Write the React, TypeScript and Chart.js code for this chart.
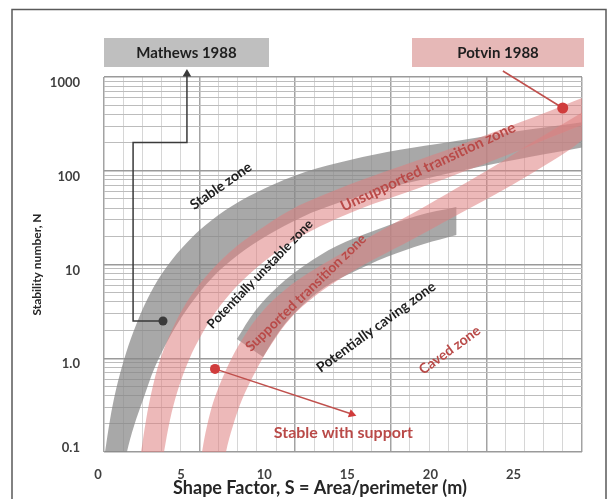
import React, { useEffect, useRef } from 'react';
import { Chart, registerables } from 'chart.js';

Chart.register(...registerables);
Chart.defaults.font.family = 'Lato, "Open Sans", sans-serif';

// ---- axes ----
const xTickValues = [0, 5, 10, 15, 20, 25];
const yTickValues = [0.1, 1, 10, 100, 1000];
const yTickLabels = ['0.1', '1.0', '10', '100', '1000'];
const xTitle = 'Shape Factor, S = Area/perimeter (m)';
const yTitle = 'Stability number, N';

// ---- Mathews (1988) transition bands, [S, N] ----
const mathewsStableUpper: [number, number][] = [
  [-0.12, 0.064], [0.06, 0.1], [0.36, 0.22], [0.72, 0.46], [1.2, 0.96], [1.81, 2.0], [2.59, 4.2],
  [3.55, 8.3], [4.69, 15], [6.08, 26], [7.7, 42], [9.69, 65], [12.1, 97], [14.8, 130],
  [17.8, 167], [20.8, 203], [23.8, 247], [28.9, 331],
];
const mathewsStableLower: [number, number][] = [
  [1.2, 0.064], [1.38, 0.1], [1.81, 0.19], [2.35, 0.36], [3.07, 0.81], [4.09, 1.86], [5.17, 3.7],
  [6.5, 7.2], [8.06, 12.6], [9.87, 20.6], [11.9, 32], [14.2, 46], [16.9, 64], [19.6, 84],
  [22.6, 110], [25.6, 140], [28.9, 179],
];
const mathewsCavingUpper: [number, number][] = [
  [7.99, 1.6], [9.09, 3.2], [10.5, 5.9], [12.1, 9.9], [14.0, 15.8], [16.2, 22.8], [18.8, 33], [21.2, 41],
];
const mathewsCavingLower: [number, number][] = [
  [9.57, 1.03], [10.65, 2.05], [11.9, 3.6], [13.3, 5.75], [15.0, 8.3], [17.0, 12], [19.25, 16.5], [21.2, 20.6],
];

// ---- Potvin (1988) transition bands, [S, N] ----
const potvinStableUpper: [number, number][] = [
  [2.05, 0.064], [2.23, 0.1], [2.53, 0.22], [2.89, 0.46], [3.37, 0.96], [4.09, 2.0], [4.99, 4.0],
  [6.14, 7.5], [7.58, 13.6], [9.27, 23], [11.2, 38], [13.3, 56], [15.7, 82], [18.4, 121],
  [21.1, 179], [23.8, 272], [26.5, 413], [28.9, 612],
];
const potvinStableLower: [number, number][] = [
  [3.43, 0.064], [3.61, 0.1], [3.97, 0.22], [4.45, 0.46], [5.11, 0.96], [5.96, 1.9], [6.98, 3.6],
  [8.24, 6.5], [9.75, 11.2], [11.5, 18.3], [13.5, 28], [15.7, 41], [18.1, 58], [20.8, 86],
  [23.5, 130], [26.2, 203], [28.9, 315],
];
const potvinSupportUpper: [number, number][] = [
  [5.78, 0.064], [5.9, 0.1], [6.2, 0.19], [6.62, 0.36], [7.28, 0.71], [8.12, 1.39], [9.21, 2.7],
  [10.5, 4.7], [12.2, 7.9], [14.2, 12.9], [16.4, 21.7], [18.8, 37], [21.2, 65], [23.7, 118],
  [25.8, 203], [28.9, 434],
];
const potvinSupportLower: [number, number][] = [
  [7.22, 0.064], [7.34, 0.1], [7.76, 0.19], [8.3, 0.36], [9.09, 0.71], [10.05, 1.39], [11.25, 2.7],
  [12.7, 4.6], [14.4, 7.4], [16.4, 11.7], [18.6, 18.7], [21.0, 32], [23.4, 54], [25.8, 95],
  [27.9, 162], [28.9, 223],
];

// ---- pointer arrows, [S, N] ----
const mathewsArrow: [number, number][] = [[3.55, 2.5], [1.75, 2.5], [1.75, 200], [4.99, 200], [4.99, 1076]];
const potvinArrow: [number, number][] = [[27.6, 467], [24.0, 1159]];
const supportArrow: [number, number][] = [[6.68, 0.77], [14.9, 0.254]];

// ---- zone labels ----
const zoneTexts = ['Stable zone', 'Potentially unstable zone', 'Unsupported transition zone',
  'Supported transition zone', 'Potentially caving zone', 'Caved zone', 'Stable with support'];
const zoneAnchors: [number, number][] = [[7.04, 68.8], [9.39, 7.9], [19.5, 110], [12.15, 5.0], [16.37, 2.15], [20.8, 1.22], [14.4, 0.16]];
const zoneAngles = [-35, -46, -25, -44, -36, -36, 0];

const DARK = '#1e1e1e';
const RED = '#b94a48';
const zoneColors = [DARK, DARK, RED, RED, DARK, RED, RED];
const zoneSizes = [14, 13, 15, 14, 14, 14, 16];

const yGridValues: number[] = [];
for (let e = -1; e <= 2; e++) for (let m = 1; m <= 9; m++) yGridValues.push(Number((m * Math.pow(10, e)).toPrecision(3)));
yGridValues.push(1000);

const toPts = (arr: [number, number][]) => arr.map(([x, y]) => ({ x, y }));
// closed outline: along the upper edge, then back along the lower edge (end corners kept sharp)
const band = (u: [number, number][], l: [number, number][]) => {
  const lr = l.slice().reverse();
  return toPts([...u, u[u.length - 1], lr[0], ...lr]);
};

const GRAY = 'rgba(135,135,135,0.72)';
const PINK = 'rgba(222,128,128,0.55)';

const decor = {
  id: 'decor',
  beforeDraw(chart: any) {
    const { ctx } = chart;
    ctx.save();
    ctx.strokeStyle = '#5a5a5a';
    ctx.lineWidth = 1.5;
    ctx.beginPath();
    ctx.moveTo(12, 499);
    ctx.lineTo(12, 9.5);
    ctx.lineTo(606, 9.5);
    ctx.lineTo(606, 499);
    ctx.stroke();
    ctx.restore();
  },
  beforeDatasetsDraw(chart: any) {
    const { ctx, chartArea } = chart;
    ctx.save();
    ctx.fillStyle = '#bfbfbf';
    ctx.fillRect(chartArea.left, 38, 269 - chartArea.left, 29);
    ctx.fillStyle = '#e6b8b7';
    ctx.fillRect(412, 38, chartArea.right + 2 - 412, 29);
    ctx.fillStyle = DARK;
    ctx.font = 'bold 15px Lato';
    ctx.textAlign = 'center';
    ctx.textBaseline = 'middle';
    ctx.fillText('Mathews 1988', (chartArea.left + 269) / 2, 53);
    ctx.fillText('Potvin 1988', (412 + chartArea.right + 2) / 2, 53);
    ctx.restore();
  },
  afterDatasetsDraw(chart: any) {
    const { ctx } = chart;
    const xs = chart.scales.x;
    const ys = chart.scales.y;
    ctx.save();
    ctx.textAlign = 'center';
    ctx.textBaseline = 'middle';
    zoneTexts.forEach((t, i) => {
      const px = xs.getPixelForValue(zoneAnchors[i][0]);
      const py = ys.getPixelForValue(zoneAnchors[i][1]);
      ctx.save();
      ctx.translate(px, py);
      ctx.rotate((zoneAngles[i] * Math.PI) / 180);
      ctx.fillStyle = zoneColors[i];
      ctx.font = `bold ${zoneSizes[i]}px Lato`;
      ctx.fillText(t, 0, 0);
      ctx.restore();
    });
    ctx.fillStyle = '#262626';
    ctx.font = 'bold 18px Lato';
    ctx.fillText(xTitle, 320, 488);
    ctx.restore();
  },
};

export default function App() {
  const ref = useRef<HTMLCanvasElement>(null);
  useEffect(() => {
    const canvas = ref.current;
    if (!canvas) return;
    const axes = { xAxisID: 'x', yAxisID: 'y' };
    const arrowBase = {
      ...axes,
      type: 'line' as const,
      fill: false,
      tension: 0,
      borderWidth: 1.5,
      pointBorderWidth: 0,
      clip: false as any,
      order: 1,
    };
    const bandBase = { ...axes, borderColor: 'transparent', borderWidth: 0, pointRadius: 0, fill: 'shape' };
    const chart = new Chart(canvas, {
      type: 'line',
      data: {
        datasets: [
          {
            ...arrowBase,
            data: toPts(mathewsArrow),
            borderColor: '#3a3a3a',
            pointBackgroundColor: '#3a3a3a',
            pointRadius: [4.5, 0, 0, 0, 5],
            pointStyle: ['circle', 'circle', 'circle', 'circle', 'triangle'],
            pointRotation: [0, 0, 0, 0, 0],
          },
          {
            ...arrowBase,
            data: toPts(potvinArrow),
            borderColor: '#c0504d',
            pointBackgroundColor: '#d03c3c',
            pointRadius: [5.5, 5],
            pointStyle: ['circle', 'triangle'],
            pointRotation: [0, -58],
          },
          {
            ...arrowBase,
            data: toPts(supportArrow),
            borderColor: '#c0504d',
            pointBackgroundColor: '#d03c3c',
            pointRadius: [5, 5],
            pointStyle: ['circle', 'triangle'],
            pointRotation: [0, 109],
          },
          { ...bandBase, data: band(potvinSupportUpper, potvinSupportLower), backgroundColor: PINK, order: 2 },
          { ...bandBase, data: band(potvinStableUpper, potvinStableLower), backgroundColor: PINK, order: 2 },
          { ...bandBase, data: band(mathewsCavingUpper, mathewsCavingLower), backgroundColor: GRAY, order: 3 },
          { ...bandBase, data: band(mathewsStableUpper, mathewsStableLower), backgroundColor: GRAY, order: 3 },
        ] as any,
      },
      options: {
        responsive: false,
        animation: false,
        events: [],
        layout: { padding: { left: 30, right: 31, top: 77, bottom: 0 } },
        elements: { line: { tension: 0.35 } },
        plugins: { legend: { display: false }, tooltip: { enabled: false } },
        scales: {
          x: {
            type: 'linear', position: 'bottom', min: 0, max: 28.76,
            afterBuildTicks: (s: any) => { s.ticks = xTickValues.map((v) => ({ value: v })); },
            ticks: { labelOffset: -6, padding: 7, color: '#404040', font: { size: 13, weight: 'bold' } },
            grid: { display: false },
            border: { display: false },
            afterFit: (s: any) => { s.height = 47; },
          },
          y: {
            type: 'logarithmic', position: 'left', min: 0.1, max: 1000,
            // the lowest label sits just inside the plot bottom, as in the source figure
            afterBuildTicks: (s: any) => { s.ticks = yTickValues.map((v, i) => ({ value: i === 0 ? v * 1.28 : v })); },
            ticks: {
              labelOffset: 6, padding: 16, color: '#404040', font: { size: 13, weight: 'bold' },
              callback: (_v: any, i: number) => yTickLabels[i],
            },
            grid: { display: false },
            border: { display: false },
            title: { display: true, text: yTitle, color: '#262626', font: { size: 12, weight: 'bold' }, padding: 0 },
            afterFit: (s: any) => { s.width = 74; },
          },
          xGrid: {
            type: 'linear', position: 'bottom', min: 0, max: 25,
            ticks: { display: false, stepSize: 1 },
            grid: {
              drawTicks: false,
              color: (c: any) => (c.tick.value % 5 === 0 ? '#a3a3a3' : '#d6d6d6'),
              lineWidth: (c: any) => (c.tick.value % 5 === 0 ? 1.5 : 1),
            },
            border: { display: false },
            afterFit: (s: any) => { s.height = 0; },
          },
          yGrid: {
            type: 'logarithmic', position: 'left', min: 0.1, max: 1000,
            ticks: { display: false },
            afterBuildTicks: (s: any) => { s.ticks = yGridValues.map((v) => ({ value: v })); },
            grid: {
              drawTicks: false,
              color: (c: any) => (Number.isInteger(Math.round(Math.log10(c.tick.value) * 1000) / 1000) ? '#9a9a9a' : '#bcbcbc'),
              lineWidth: (c: any) => (Number.isInteger(Math.round(Math.log10(c.tick.value) * 1000) / 1000) ? 1.5 : 1),
            },
            border: { display: false },
            afterFit: (s: any) => { s.width = 0; },
          },
        } as any,
      },
      plugins: [decor],
    });
    return () => chart.destroy();
  }, []);
  return (
    <div style={{ position: 'fixed', left: 0, top: 0, width: 613, height: 499, background: '#fff' }}>
      <canvas ref={ref} width={613} height={499} style={{ display: 'block', width: 613, height: 499 }} />
    </div>
  );
}
